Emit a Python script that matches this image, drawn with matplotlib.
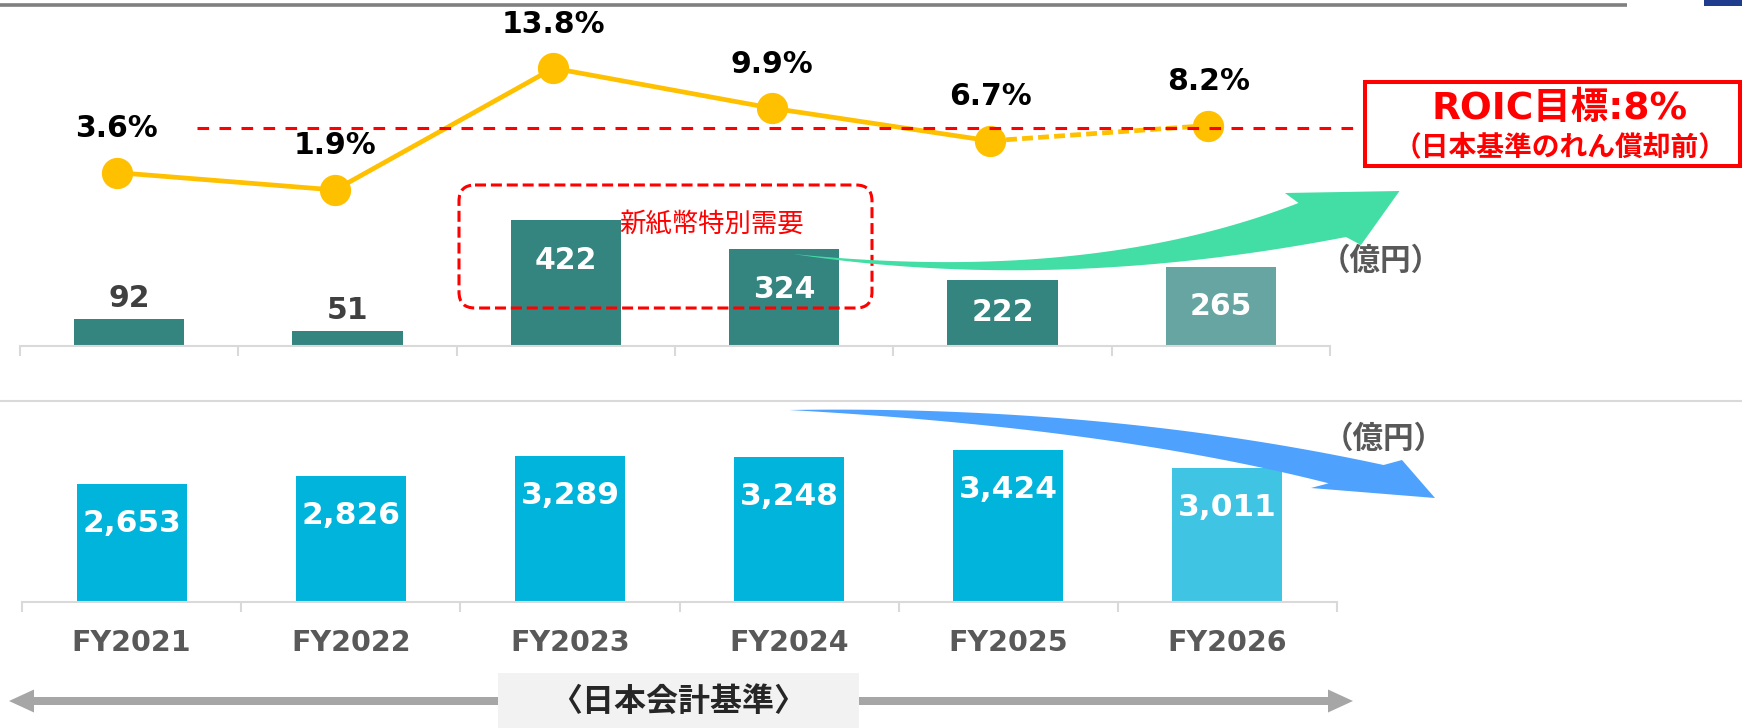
import matplotlib
matplotlib.use("Agg")
import matplotlib.pyplot as plt
import numpy as np
from matplotlib.patches import FancyBboxPatch, Rectangle, Polygon
import matplotlib.transforms as mtransforms

plt.rcParams['font.family'] = ['DejaVu Sans', 'Noto Sans CJK JP']

# ---------------- data ----------------
years = ["FY2021", "FY2022", "FY2023", "FY2024", "FY2025", "FY2026"]
op_profit = [92, 51, 422, 324, 222, 265]            # 億円
net_sales = [2653, 2826, 3289, 3248, 3424, 3011]    # 億円
roic = [3.6, 1.9, 13.8, 9.9, 6.7, 8.2]              # %
roic_target = 8.0
plan_index = 5                                      # FY2026 = plan

# ---------------- figure ----------------
W, H = 1742, 728
fig = plt.figure(figsize=(W / 100, H / 100), dpi=100)


def rect(x0, y_top, x1, y_bot):
    return [x0 / W, 1 - y_bot / H, (x1 - x0) / W, (y_bot - y_top) / H]


AXC = '#D9D9D9'


def style_axis(ax, n):
    ax.set_xlim(-0.5, n - 0.5)
    for s in ['top', 'right', 'left']:
        ax.spines[s].set_visible(False)
    ax.spines['bottom'].set_color(AXC)
    ax.spines['bottom'].set_linewidth(1.5)
    ax.set_yticks([])
    ax.set_xticks(range(n))
    ax.set_xticks(np.arange(-0.5, n, 1), minor=True)
    ax.tick_params(axis='x', which='major', length=0)
    ax.tick_params(axis='x', which='minor', length=7.5, width=1.5,
                   color=AXC, direction='out')
    ax.patch.set_alpha(0)


x = np.arange(len(years))
n = len(years)

# overlay axes in pixel coordinates (for decorations)
ov = fig.add_axes([0, 0, 1, 1], zorder=10)
ov.set_xlim(0, W)
ov.set_ylim(H, 0)
ov.axis('off')
ov.patch.set_alpha(0)

# ---------- top: operating profit bars ----------
ax_op = fig.add_axes(rect(20, 0, 1330, 346))
style_axis(ax_op, n)
op_ppu = 0.298
ax_op.set_ylim(0, 346 / op_ppu)
ax_op.set_xticklabels([])
op_colors = ['#348480' if i < plan_index else '#66A5A1' for i in range(n)]
ax_op.bar(x, op_profit, width=0.505, color=op_colors)
for xi, v in zip(x, op_profit):
    if v < 100:
        ax_op.annotate(f"{v:,}", (xi, v), xytext=(0, 14.8), textcoords='offset points',
                       ha='center', va='center', fontsize=21.5, fontweight='bold',
                       color='#404040')
    else:
        off_px = min(40, v * op_ppu / 2)
        ax_op.annotate(f"{v:,}", (xi, v), xytext=(0, -off_px * 0.72),
                       textcoords='offset points', ha='center', va='center',
                       fontsize=21.5, fontweight='bold', color='white')

# ---------- top: ROIC line ----------
ax_r = fig.add_axes(rect(20, 0, 1330, 346))
ax_r.set_xlim(-0.5 + 0.057, n - 0.5 + 0.057)
ax_r.set_ylim(-13.35, 20.47)
ax_r.axis('off')
ax_r.patch.set_alpha(0)
YEL = '#FFC000'
ax_r.plot(x[:plan_index], roic[:plan_index], color=YEL, lw=3.4)
ax_r.plot(x[plan_index - 1:], roic[plan_index - 1:], color=YEL, lw=3.4,
          ls=(0, (2.3, 1.1)))
ax_r.plot(x, roic, 'o', ms=21.5, color=YEL, mec=YEL)
for xi, v in zip(x, roic):
    ax_r.annotate(f"{v}%", (xi, v), xytext=(0, 31.7), textcoords='offset points',
                  ha='center', va='center', fontsize=21.5, fontweight='bold',
                  color='black')
trans = mtransforms.blended_transform_factory(ov.transData, ax_r.transData)
ax_r.plot([197, 1363], [roic_target, roic_target], transform=trans, color='#FF0000',
          lw=2.2, ls=(0, (3.8, 3.4)), clip_on=False, zorder=5)

# ---------- bottom: net sales bars ----------
ax_s = fig.add_axes(rect(22, 410, 1337, 602))
style_axis(ax_s, n)
s_ppu = 0.0445
ax_s.set_ylim(0, 192 / s_ppu)
s_colors = ['#00B4DC' if i < plan_index else '#40C4E4' for i in range(n)]
ax_s.bar(x, net_sales, width=110 / 219.2, color=s_colors)
for xi, v in zip(x, net_sales):
    ax_s.annotate(f"{v:,}", (xi, v), xytext=(0, -28.4), textcoords='offset points',
                  ha='center', va='center', fontsize=22.5, fontweight='bold',
                  color='white')
ax_s.set_xticklabels(years, fontsize=20.5, fontweight='bold', color='#595959')
ax_s.tick_params(axis='x', which='major', pad=19.5)

# ---------------- decorations ----------------
# header rule & corner mark
ov.plot([0, 1627], [5, 5], color='#808080', lw=2.6, solid_capstyle='butt')
ov.add_patch(Rectangle((1704, 0), 38, 5.5, color='#203C8C', lw=0))
# separator
ov.plot([0, W], [401, 401], color=AXC, lw=1.5)

# dashed rounded box (special demand)
ov.add_patch(FancyBboxPatch((459, 185), 413, 123,
                            boxstyle="round,pad=0,rounding_size=16",
                            fc='none', ec='#FF0000', lw=2.2, ls=(0, (3.6, 1.6))))
ov.text(712, 225, "新紙幣特別需要", fontsize=19, color='#FF0000',
        ha='center', va='center', family=['Noto Sans CJK JP'])

# ROIC target box
ov.add_patch(Rectangle((1364.5, 82), 1740 - 1364.5, 166 - 82, fc='white',
                       ec='#FF0000', lw=2.9))
ov.text(1560, 109, "ROIC目標:8%", fontsize=27, fontweight='bold', color='#FF0000',
        ha='center', va='center')
ov.text(1560, 147, "（日本基準のれん償却前）", fontsize=20, fontweight='bold',
        color='#FF0000', ha='center', va='center')


def qbez(p0, c, p1, npts=80):
    t = np.linspace(0, 1, npts)[:, None]
    return ((1 - t) ** 2) * np.array(p0) + 2 * (1 - t) * t * np.array(c) + (t ** 2) * np.array(p1)


def curved_arrow(S, N1, C1, N2, C2, head, color):
    top = qbez(S, C1, N1)
    bot = qbez(S, C2, N2)[::-1]
    pts = np.vstack([top, np.array(head), bot])
    ov.add_patch(Polygon(pts, closed=True, fc=color, ec='none'))


# green arrow (upwards)
curved_arrow((793, 254), (1298.5, 203), (1090, 284), (1346, 237), (1053, 293.5),
             [(1285, 193), (1399.5, 191), (1361, 245)], '#42DEA5')
# blue arrow (downwards)
curved_arrow((789, 410), (1383.6, 465), (1106, 405), (1328.6, 483.3), (1112, 428),
             [(1402, 460), (1435, 498), (1311, 488)], '#4EA2FE')

# unit labels
ov.text(1381, 261, "（億円）", fontsize=22, fontweight='bold', color='#595959',
        ha='center', va='center')
ov.text(1384, 439, "（億円）", fontsize=22, fontweight='bold', color='#595959',
        ha='center', va='center')

# bottom double arrow with label box
ya = 701
dbl = [(9, ya), (34, ya - 11.5), (34, ya - 4), (1328, ya - 4), (1328, ya - 11.5),
       (1353, ya), (1328, ya + 11.5), (1328, ya + 4), (34, ya + 4), (34, ya + 11.5)]
ov.add_patch(Polygon(dbl, closed=True, fc='#A6A6A6', ec='none'))
ov.add_patch(Rectangle((498, 673), 361, 56, fc='#F2F2F2', ec='none'))
ov.text(678, 702, "〈日本会計基準〉", fontsize=23, fontweight='bold', color='#262626',
        ha='center', va='center')

fig.savefig("out.png", dpi=100)
